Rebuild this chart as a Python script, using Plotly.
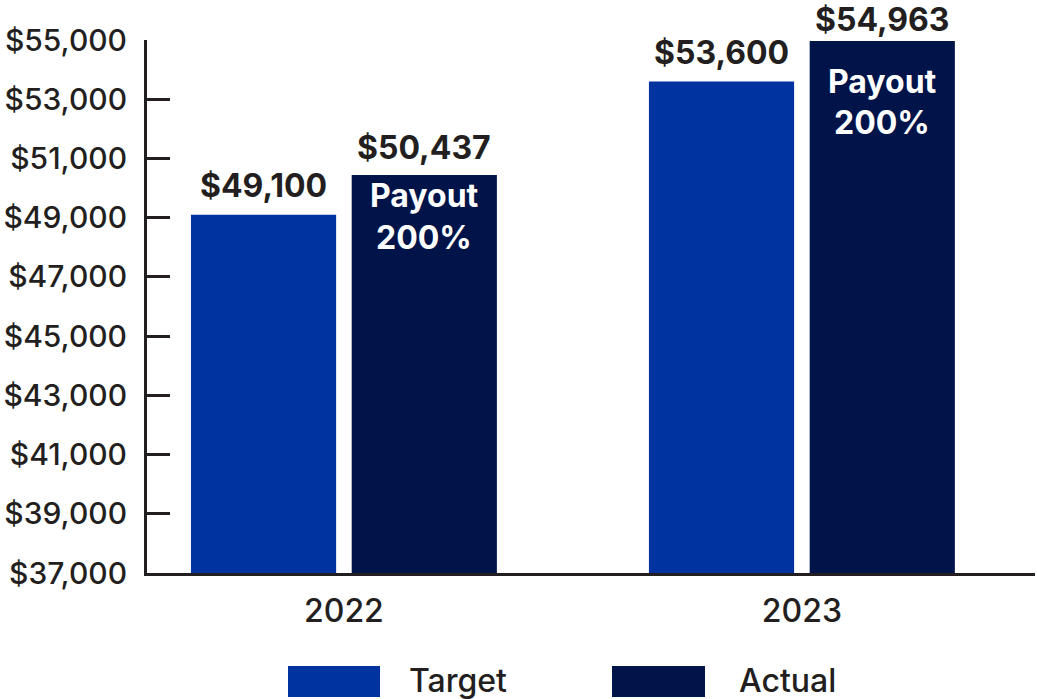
import plotly.graph_objects as go

years = ["2022", "2023"]
target = [49100, 53600]
actual = [50437, 54963]
payout = ["200%", "200%"]
y_ticks = list(range(37000, 55001, 2000))
y_tick_labels = [f"${v:,}" for v in y_ticks]

BLUE = "#0033a0"
NAVY = "#00144a"
INK = "#231f20"
FONT = "Inter"

W, H = 1037, 699
ML, MR, MT, MB = 147, 2, 40, 126
PW, PH = W - ML - MR, H - MT - MB

bar_w = 0.317
gap = 0.034
xs = list(range(len(years)))
off_t = -gap / 2 - bar_w
off_a = gap / 2

# label offsets in pixels (layout only)
val_shift_t = [29, 29]
val_shift_a = [28, 22]
pay_shift_1 = [-20, -40]
pay_shift_2 = [-62, -81]

fig = go.Figure()
fig.add_trace(go.Bar(name="Target", x=xs, y=target, width=bar_w, offset=off_t,
                     marker=dict(color=BLUE, line_width=0), hoverinfo="y"))
fig.add_trace(go.Bar(name="Actual", x=xs, y=actual, width=bar_w, offset=off_a,
                     marker=dict(color=NAVY, line_width=0), hoverinfo="y"))

lab_font = dict(family=FONT, size=32, color=INK, weight=700)
pay_font = dict(family=FONT, size=32, color="white", weight=700)

ann = []
for i in xs:
    ct = i + off_t + bar_w / 2
    ca = i + off_a + bar_w / 2
    ann.append(dict(x=ct, y=target[i], xref="x", yref="y", text=f"${target[i]:,}",
                    showarrow=False, yanchor="middle", yshift=val_shift_t[i], font=lab_font))
    ann.append(dict(x=ca, y=actual[i], xref="x", yref="y", text=f"${actual[i]:,}",
                    showarrow=False, yanchor="middle", yshift=val_shift_a[i], font=lab_font))
    ann.append(dict(x=ca, y=actual[i], xref="x", yref="y", text="Payout",
                    showarrow=False, yanchor="middle", yshift=pay_shift_1[i], font=pay_font))
    ann.append(dict(x=ca, y=actual[i], xref="x", yref="y", text=payout[i],
                    showarrow=False, yanchor="middle", yshift=pay_shift_2[i], font=pay_font))

def px2paper_x(p):
    return (p - ML) / PW

def px2paper_y(p):
    return (H - MB - p) / PH

shapes = []
legend_items = [("Target", BLUE, 288, 380, 407), ("Actual", NAVY, 612, 705, 737)]
for name, col, x0, x1, tx in legend_items:
    shapes.append(dict(type="rect", xref="paper", yref="paper",
                       x0=px2paper_x(x0), x1=px2paper_x(x1),
                       y0=px2paper_y(697), y1=px2paper_y(666),
                       fillcolor=col, line_width=0))
    ann.append(dict(x=px2paper_x(tx), y=px2paper_y(680), xref="paper", yref="paper",
                    text=name, showarrow=False, xanchor="left", yanchor="middle",
                    font=dict(family=FONT, size=32, color=INK, weight=500)))

fig.update_layout(
    width=W, height=H,
    margin=dict(l=ML, r=MR, t=MT, b=MB, pad=0),
    plot_bgcolor="white", paper_bgcolor="white",
    showlegend=False,
    annotations=ann, shapes=shapes,
    font=dict(family=FONT, color=INK),
    xaxis=dict(range=[-0.430, 1.509], tickvals=xs, ticktext=years,
               showgrid=False, zeroline=False, showline=True, linecolor=INK, linewidth=3,
               ticks="", tickfont=dict(family=FONT, size=32, color=INK, weight=500),
               ticklabelstandoff=8),
    yaxis=dict(range=[37000, 55000], tickvals=y_ticks, ticktext=y_tick_labels,
               showgrid=False, zeroline=False, showline=True, linecolor=INK, linewidth=3,
               ticks="inside", ticklen=23, tickwidth=3, tickcolor=INK,
               tickfont=dict(family=FONT, size=30, color=INK, weight=500),
               ticklabelstandoff=11),
)

fig.write_html("out.html", config={"displayModeBar": False},
               post_script="document.body.style.margin='0';document.body.style.overflow='hidden';")
